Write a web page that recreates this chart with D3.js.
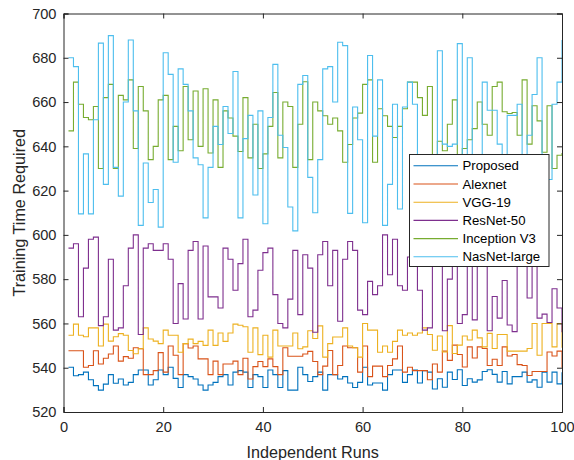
<!DOCTYPE html>
<html>
<head>
<meta charset="utf-8">
<script src="https://cdn.jsdelivr.net/npm/d3@7"></script>
<style>
  body { margin: 0; background: #fff; }
  svg { display: block; font-family: Arial, 'Liberation Sans', sans-serif; }
  .axis path, .axis line { stroke: #262626; }
  .axis text { fill: #262626; font-size: 14.6px; }
</style>
</head>
<body>
<div id="chart"></div>
<script>
var seriesNames = ['Proposed', 'Alexnet', 'VGG-19', 'ResNet-50', 'Inception V3', 'NasNet-large'];
var seriesColors = ['#0072BD', '#D95319', '#EDB120', '#7E2F8E', '#77AC30', '#4DBEEE'];

var xTicks = [0, 20, 40, 60, 80, 100];
var yTicks = [520, 540, 560, 580, 600, 620, 640, 660, 680, 700];

// training time per independent run (runs 1..100)
var proposed = [
  540.2, 536.4, 536.9, 538, 534.6, 531.9, 529.9, 532.6, 536.9, 533,
  534.9, 532.2, 533.4, 536.9, 539, 539, 532.2, 534.6, 539, 536.9,
  540.2, 535.2, 531.1, 536.9, 536, 534.9, 532.2, 529.9, 532.2, 533.4,
  536, 536.9, 532.2, 538, 538.7, 538, 531.1, 536.9, 536, 531.1,
  539, 536.9, 531.1, 538.7, 529.9, 529.9, 540.2, 536.9, 533.8, 536,
  538, 529.9, 536.9, 536.9, 534.9, 536, 533.1, 531.1, 533.4, 540.2,
  532.2, 533.1, 533.1, 529.9, 536.9, 539, 539, 533.4, 536.9, 539,
  533.1, 538.7, 538, 530.4, 535, 531.2, 538, 534.7, 539.1, 532,
  535, 533.5, 534.5, 538.3, 539.1, 537, 533.5, 538.3, 532.7, 536,
  536, 538, 533.5, 534.5, 531.2, 538, 533.5, 538, 532.7, 538
];
var alexnet = [
  547.7, 547.7, 547.7, 540.2, 541, 547.7, 541.7, 544.3, 546.2, 549.8,
  543, 545, 544.3, 549, 548.6, 536.9, 536.9, 538.7, 546.8, 538,
  549.8, 545.6, 536.9, 550.9, 548.9, 549.8, 544, 544, 536.9, 543,
  536.9, 541.7, 541.7, 543, 536.9, 544.3, 534.9, 540.5, 542.8, 540.5,
  544, 540.5, 536.9, 549, 545.2, 545.2, 545.2, 546.2, 547.4, 542.8,
  536.9, 540.7, 547.8, 536.9, 541, 549.8, 549, 549, 538, 549.8,
  536, 540.7, 540.7, 536, 541, 544, 549.8, 538, 540.2, 538.7,
  538.7, 538.7, 534.6, 541.7, 538, 547.5, 543.3, 550.2, 546, 540.3,
  549.4, 544.4, 549.4, 548.7, 541, 543.8, 541, 549.4, 545.3, 546,
  541.4, 541, 536.5, 538.3, 538.3, 538.3, 547.1, 545.3, 547.5, 540
];
var vgg19 = [
  554.7, 559.7, 554.7, 554, 558, 558, 549.8, 559.7, 552, 554,
  555.4, 554.7, 547.8, 546.3, 548.6, 558, 553, 552, 550.9, 557,
  554.7, 554.7, 547, 550.9, 552.9, 550.9, 551.9, 550.1, 557, 550.1,
  555.7, 551.9, 555.7, 559.7, 559.2, 558.5, 547, 558, 545.9, 554.7,
  544.8, 557, 549.8, 549.8, 549.8, 555.7, 548.6, 549.4, 556.7, 553.2,
  558.9, 544.8, 550.9, 553.9, 553.9, 558, 549.8, 549, 544.8, 560,
  557, 557, 547, 549.8, 547, 551.9, 557, 554.7, 555.7, 554.7,
  555.7, 558, 555, 547.9, 554.3, 547.1, 559, 546.4, 550.2, 554.3,
  552.5, 557, 553.5, 549.4, 555.5, 548.7, 555, 555, 547.5, 547.5,
  547.5, 547.5, 548.7, 560, 545.6, 560, 560, 549.4, 560, 549
];
var resnet50 = [
  594, 596, 563, 585, 598, 599, 559, 563, 589, 557,
  558, 577, 594, 600, 555, 594, 596, 593, 593, 596,
  589, 560, 578, 562, 593, 597, 562, 595, 572, 572,
  567, 594, 589, 575, 587, 598, 563, 566, 584, 592,
  594, 573, 560, 558, 571, 593, 564, 591, 585, 556,
  591, 597, 577, 593, 561, 589, 597, 593, 566, 564,
  579, 573, 577, 600, 582, 598, 577, 575, 590, 596,
  575, 557, 558, 592, 590, 556.7, 580, 592, 560, 564,
  592, 561.6, 595, 590, 556.7, 572.2, 562.4, 579.4, 559.3, 556.3,
  596, 590, 571.5, 592, 562.4, 564.2, 560.4, 575.7, 567, 556
];
var inceptionV3 = [
  647, 669, 659, 653, 652, 658, 630, 662, 668, 630,
  663, 661, 670, 639, 667, 656, 634, 640, 661, 663,
  634, 649, 638, 667, 643, 665, 640, 666, 637, 661,
  630.5, 656, 652.8, 644.6, 637.7, 662, 634.8, 650, 630, 636.6,
  649, 664.3, 634.8, 660, 658, 630.5, 650, 669.2, 634, 660,
  656, 653.8, 650, 652.8, 647, 632.8, 640.8, 652.8, 655, 668,
  670, 632.8, 657, 653.8, 649, 644, 649, 657, 669, 669,
  662, 654, 667, 625, 642.3, 638, 650, 661, 628, 639,
  643, 648, 660, 650, 645, 667, 669, 655.6, 654.8, 655.3,
  645, 670, 641, 658.3, 651.5, 637.3, 658.3, 630, 636, 637
];
var nasnetLarge = [
  680, 676, 609.5, 636.6, 609.5, 652, 686.6, 622.8, 690, 630.5,
  617.5, 660, 688, 656, 604.3, 632.5, 614.6, 620.5, 603.5, 682.3,
  672.5, 632.8, 675, 668, 656, 634.8, 631.7, 607.7, 630.5, 649,
  640.8, 658, 645.8, 673.8, 607.7, 643.5, 654, 618, 656, 605,
  653, 677, 645, 639.5, 612.6, 601.8, 668, 672, 626, 610,
  634, 675, 676, 660, 687, 685.5, 609.7, 657.8, 643, 605.5,
  681, 644.6, 670, 604.3, 622.8, 659, 611.7, 657.8, 669, 659,
  615, 625, 610, 630, 683.2, 641, 640, 641, 686.4, 615,
  680, 618, 625, 669, 656.3, 656.3, 641, 615, 654, 654,
  659, 615, 645, 663.4, 680, 612, 625, 659, 669, 688
];

var seriesValues = [proposed, alexnet, vgg19, resnet50, inceptionV3, nasnetLarge];

var width = 574;
var height = 460;
var plot = {left: 63.5, right: 562, top: 13.5, bottom: 412};

var x = d3.scaleLinear().domain([0, 100]).range([plot.left, plot.right]);
var y = d3.scaleLinear().domain([520, 700]).range([plot.bottom, plot.top]);

var svg = d3.select('#chart').append('svg')
  .attr('width', width)
  .attr('height', height);

// stairs, like matlab: step after each run
var line = d3.line()
  .curve(d3.curveStepAfter)
  .x(function(d, i) { return x(i + 1); })
  .y(function(d) { return y(d); });

svg.append('g').selectAll('path')
  .data(seriesValues)
  .enter().append('path')
  .attr('d', function(d) { return line(d); })
  .attr('fill', 'none')
  .attr('stroke', function(d, i) { return seriesColors[i]; })
  .attr('stroke-width', 1.1);

// axes, ticks pointing inward, box on
var xaxis = d3.axisBottom(x).tickValues(xTicks).tickSize(-5).tickPadding(10);
var yaxis = d3.axisLeft(y).tickValues(yTicks).tickSize(-5).tickPadding(7);

svg.append('g')
  .attr('class', 'axis')
  .attr('transform', 'translate(0,' + plot.bottom + ')')
  .call(xaxis);

svg.append('g')
  .attr('class', 'axis')
  .attr('transform', 'translate(' + plot.left + ',0)')
  .call(yaxis);

svg.append('g')
  .attr('class', 'axis')
  .attr('transform', 'translate(0,' + plot.top + ')')
  .call(d3.axisTop(x).tickValues(xTicks).tickSize(-5).tickFormat(''));

svg.append('g')
  .attr('class', 'axis')
  .attr('transform', 'translate(' + plot.right + ',0)')
  .call(d3.axisRight(y).tickValues(yTicks).tickSize(-5).tickFormat(''));

svg.selectAll('.axis path').attr('stroke-width', 1);

// axis labels
svg.append('text')
  .attr('x', (plot.left + plot.right) / 2)
  .attr('y', 458)
  .attr('text-anchor', 'middle')
  .attr('fill', '#262626')
  .attr('font-size', '16.2px')
  .text('Independent Runs');

svg.append('text')
  .attr('transform', 'translate(25,' + (plot.top + plot.bottom) / 2 + ') rotate(-90)')
  .attr('text-anchor', 'middle')
  .attr('fill', '#262626')
  .attr('font-size', '16.2px')
  .text('Training Time Required');

// legend
var legend = svg.append('g').attr('transform', 'translate(409.5,154.5)');

legend.append('rect')
  .attr('width', 139.5)
  .attr('height', 112)
  .attr('fill', '#fff')
  .attr('stroke', '#262626')
  .attr('stroke-width', 1);

var rows = legend.selectAll('g.row')
  .data(seriesNames)
  .enter().append('g')
  .attr('class', 'row')
  .attr('transform', function(d, i) { return 'translate(0,' + (11.3 + i * 18.2) + ')'; });

rows.append('line')
  .attr('x1', 4)
  .attr('x2', 48.5)
  .attr('stroke', function(d, i) { return seriesColors[i]; })
  .attr('stroke-width', 1.1);

rows.append('text')
  .attr('x', 53)
  .attr('dy', '0.35em')
  .attr('fill', '#000')
  .attr('font-size', '13.2px')
  .text(function(d) { return d; });
</script>
</body>
</html>
